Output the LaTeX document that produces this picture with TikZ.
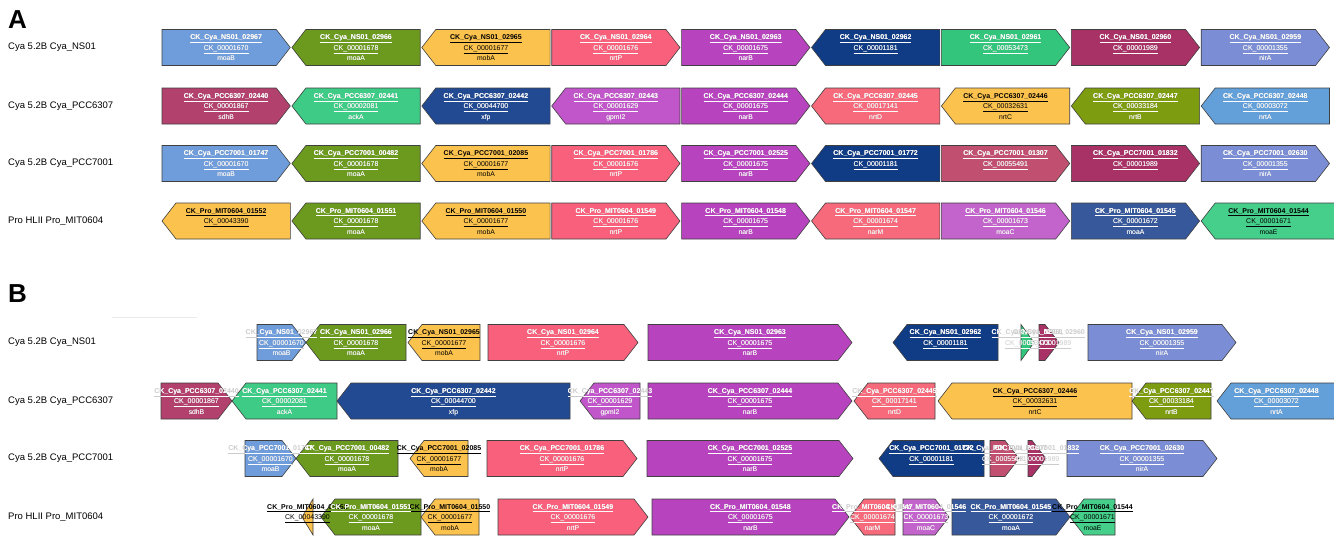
\documentclass[tikz,border=0pt]{standalone}
\usepackage{fontspec}
\setmainfont{Liberation Sans}
\definecolor{cMoaB}{HTML}{6F9CDA}
\definecolor{cMoaA}{HTML}{6B9A1E}
\definecolor{cMobA}{HTML}{FBC24E}
\definecolor{cNrtP}{HTML}{F8607B}
\definecolor{cNarB}{HTML}{B843BF}
\definecolor{cDkBlue}{HTML}{103B85}
\definecolor{cGrn}{HTML}{33C57B}
\definecolor{cCrim}{HTML}{A83266}
\definecolor{cNirA}{HTML}{7B8ED5}
\definecolor{cSdhB}{HTML}{B3416D}
\definecolor{cAckA}{HTML}{3DCB86}
\definecolor{cXfp}{HTML}{224A92}
\definecolor{cGpm}{HTML}{C056C9}
\definecolor{cNrtD}{HTML}{F66A7B}
\definecolor{cNrtB}{HTML}{7E9C10}
\definecolor{cNrtA}{HTML}{63A0DA}
\definecolor{cRose}{HTML}{C14F70}
\definecolor{cMoaC}{HTML}{C264CB}
\definecolor{cMoaAb}{HTML}{37599B}
\definecolor{cMoaE}{HTML}{45CF8A}
% colours whose labels are printed in black
\def\txtcMobA{black}
\def\txtcMoaE{black}
\def\gnWhite{white}
\tikzset{
  genebox/.style={draw=black!75, line width=0.6pt, line join=miter},
  gl1/.style={font=\fontsize{7}{8}\selectfont\bfseries, inner sep=0pt, anchor=base},
  gl2/.style={font=\fontsize{7}{8}\selectfont, inner sep=0pt, anchor=base},
  gl3/.style={font=\fontsize{6.8}{8}\selectfont, inner sep=0pt, anchor=base},
  rowlab/.style={font=\fontsize{9.5}{11}\selectfont, anchor=west, inner sep=0pt},
  panellab/.style={font=\fontsize{26}{30}\selectfont\bfseries, anchor=base west, inner sep=0pt},
  ghosttxt/.style={text=black!20},
}
\newcommand\gnCalc[5]{%
  \pgfmathsetmacro\gnH{min(14,(#2)-(#1))}%
  \pgfmathsetmacro\gnM{(#3)+18}%
  \pgfmathsetmacro\gnBot{(#3)+36}%
  \pgfmathsetmacro\gnX{((#1)+(#2))/2}%
  \if#4R%
    \pgfmathsetmacro\gnA{#1}\pgfmathsetmacro\gnB{#2}\pgfmathsetmacro\gnC{(#2)-\gnH}%
  \else
    \pgfmathsetmacro\gnA{#2}\pgfmathsetmacro\gnB{#1}\pgfmathsetmacro\gnC{(#1)+\gnH}%
  \fi
  \ifcsname txt#5\endcsname\def\gnT{black}\else\def\gnT{white}\fi
}
\newcommand\gnBox[9]{\gnCalc{#2}{#3}{#4}{#5}{#6}%
  \path[genebox,fill=#6] (\gnA,#4) -- (\gnC,#4) -- (\gnB,\gnM) -- (\gnC,\gnBot) -- (\gnA,\gnBot) -- cycle;
  \xdef\rowclip{\rowclip (\gnA,#4) -- (\gnC,#4) -- (\gnB,\gnM) -- (\gnC,\gnBot) -- (\gnA,\gnBot) -- cycle }%
}
\newcommand\gnTxtOut[9]{\gnCalc{#2}{#3}{#4}{#5}{#6}%
  \ifx\gnT\gnWhite
    \node[gl1,ghosttxt] (#1-g1) at (\gnX,#4+10) {\underline{#7}};
    \node[gl2,ghosttxt] (#1-g2) at (\gnX,#4+20.5) {\underline{#8}};
    \node[gl3,ghosttxt] (#1-g3) at (\gnX,#4+31) {#9};
  \else
    \node[gl1,text=black] (#1-1) at (\gnX,#4+10) {\underline{#7}};
    \node[gl2,text=black] (#1-2) at (\gnX,#4+20.5) {\underline{#8}};
    \node[gl3,text=black] (#1-3) at (\gnX,#4+31) {#9};
  \fi
}
\newcommand\gnTxtIn[9]{\gnCalc{#2}{#3}{#4}{#5}{#6}%
  \ifx\gnT\gnWhite
    \node[gl1,text=white] (#1-1) at (\gnX,#4+10) {\underline{#7}};
    \node[gl2,text=white] (#1-2) at (\gnX,#4+20.5) {\underline{#8}};
    \node[gl3,text=white] (#1-3) at (\gnX,#4+31) {#9};
  \fi
}
\newcommand\drawrow[1]{%
  \gdef\rowclip{}%
  \let\gn\gnBox #1%
  \let\gn\gnTxtOut #1%
  \begin{scope}\expandafter\clip\rowclip;\let\gn\gnTxtIn #1\end{scope}%
}
% ---------------- Panel A ----------------
\newcommand\rowAa{%
\gn{a1g1}{162}{290.3}{29.5}{R}{cMoaB}{CK\_Cya\_NS01\_02967}{CK\_00001670}{moaB}%
\gn{a1g2}{291.9}{420.2}{29.5}{L}{cMoaA}{CK\_Cya\_NS01\_02966}{CK\_00001678}{moaA}%
\gn{a1g3}{421.8}{550.1}{29.5}{L}{cMobA}{CK\_Cya\_NS01\_02965}{CK\_00001677}{mobA}%
\gn{a1g4}{551.7}{680}{29.5}{R}{cNrtP}{CK\_Cya\_NS01\_02964}{CK\_00001676}{nrtP}%
\gn{a1g5}{681.6}{809.9}{29.5}{R}{cNarB}{CK\_Cya\_NS01\_02963}{CK\_00001675}{narB}%
\gn{a1g6}{811.5}{939.8}{29.5}{L}{cDkBlue}{CK\_Cya\_NS01\_02962}{CK\_00001181}{}%
\gn{a1g7}{941.4}{1069.7}{29.5}{R}{cGrn}{CK\_Cya\_NS01\_02961}{CK\_00053473}{}%
\gn{a1g8}{1071.3}{1199.6}{29.5}{R}{cCrim}{CK\_Cya\_NS01\_02960}{CK\_00001989}{}%
\gn{a1g9}{1201.2}{1329.5}{29.5}{R}{cNirA}{CK\_Cya\_NS01\_02959}{CK\_00001355}{nirA}%
}
\newcommand\rowAb{%
\gn{a2g1}{162}{290.3}{88}{R}{cSdhB}{CK\_Cya\_PCC6307\_02440}{CK\_00001867}{sdhB}%
\gn{a2g2}{291.9}{420.2}{88}{L}{cAckA}{CK\_Cya\_PCC6307\_02441}{CK\_00002081}{ackA}%
\gn{a2g3}{421.8}{550.1}{88}{L}{cXfp}{CK\_Cya\_PCC6307\_02442}{CK\_00044700}{xfp}%
\gn{a2g4}{551.7}{680}{88}{L}{cGpm}{CK\_Cya\_PCC6307\_02443}{CK\_00001629}{gpmI2}%
\gn{a2g5}{681.6}{809.9}{88}{R}{cNarB}{CK\_Cya\_PCC6307\_02444}{CK\_00001675}{narB}%
\gn{a2g6}{811.5}{939.8}{88}{L}{cNrtD}{CK\_Cya\_PCC6307\_02445}{CK\_00017141}{nrtD}%
\gn{a2g7}{941.4}{1069.7}{88}{L}{cMobA}{CK\_Cya\_PCC6307\_02446}{CK\_00032631}{nrtC}%
\gn{a2g8}{1071.3}{1199.6}{88}{L}{cNrtB}{CK\_Cya\_PCC6307\_02447}{CK\_00033184}{nrtB}%
\gn{a2g9}{1201.2}{1329.5}{88}{L}{cNrtA}{CK\_Cya\_PCC6307\_02448}{CK\_00003072}{nrtA}%
}
\newcommand\rowAc{%
\gn{a3g1}{162}{290.3}{145.5}{R}{cMoaB}{CK\_Cya\_PCC7001\_01747}{CK\_00001670}{moaB}%
\gn{a3g2}{291.9}{420.2}{145.5}{L}{cMoaA}{CK\_Cya\_PCC7001\_00482}{CK\_00001678}{moaA}%
\gn{a3g3}{421.8}{550.1}{145.5}{L}{cMobA}{CK\_Cya\_PCC7001\_02085}{CK\_00001677}{mobA}%
\gn{a3g4}{551.7}{680}{145.5}{R}{cNrtP}{CK\_Cya\_PCC7001\_01786}{CK\_00001676}{nrtP}%
\gn{a3g5}{681.6}{809.9}{145.5}{R}{cNarB}{CK\_Cya\_PCC7001\_02525}{CK\_00001675}{narB}%
\gn{a3g6}{811.5}{939.8}{145.5}{L}{cDkBlue}{CK\_Cya\_PCC7001\_01772}{CK\_00001181}{}%
\gn{a3g7}{941.4}{1069.7}{145.5}{R}{cRose}{CK\_Cya\_PCC7001\_01307}{CK\_00055491}{}%
\gn{a3g8}{1071.3}{1199.6}{145.5}{R}{cCrim}{CK\_Cya\_PCC7001\_01832}{CK\_00001989}{}%
\gn{a3g9}{1201.2}{1329.5}{145.5}{R}{cNirA}{CK\_Cya\_PCC7001\_02630}{CK\_00001355}{nirA}%
}
\newcommand\rowAd{%
\gn{a4g1}{162}{290.3}{203}{L}{cMobA}{CK\_Pro\_MIT0604\_01552}{CK\_00043390}{}%
\gn{a4g2}{291.9}{420.2}{203}{L}{cMoaA}{CK\_Pro\_MIT0604\_01551}{CK\_00001678}{moaA}%
\gn{a4g3}{421.8}{550.1}{203}{L}{cMobA}{CK\_Pro\_MIT0604\_01550}{CK\_00001677}{mobA}%
\gn{a4g4}{551.7}{680}{203}{R}{cNrtP}{CK\_Pro\_MIT0604\_01549}{CK\_00001676}{nrtP}%
\gn{a4g5}{681.6}{809.9}{203}{R}{cNarB}{CK\_Pro\_MIT0604\_01548}{CK\_00001675}{narB}%
\gn{a4g6}{811.5}{939.8}{203}{L}{cNrtD}{CK\_Pro\_MIT0604\_01547}{CK\_00001674}{narM}%
\gn{a4g7}{941.4}{1069.7}{203}{R}{cMoaC}{CK\_Pro\_MIT0604\_01546}{CK\_00001673}{moaC}%
\gn{a4g8}{1071.3}{1199.6}{203}{R}{cMoaAb}{CK\_Pro\_MIT0604\_01545}{CK\_00001672}{moaA}%
\gn{a4g9}{1201.2}{1336}{203}{L}{cMoaE}{CK\_Pro\_MIT0604\_01544}{CK\_00001671}{moaE}%
}
% ---------------- Panel B ----------------
\newcommand\rowBa{%
\gn{b1g1}{257}{306}{324.5}{R}{cMoaB}{CK\_Cya\_NS01\_02967}{CK\_00001670}{moaB}%
\gn{b1g2}{306}{406}{324.5}{L}{cMoaA}{CK\_Cya\_NS01\_02966}{CK\_00001678}{moaA}%
\gn{b1g3}{408}{480}{324.5}{L}{cMobA}{CK\_Cya\_NS01\_02965}{CK\_00001677}{mobA}%
\gn{b1g4}{488}{638}{324.5}{R}{cNrtP}{CK\_Cya\_NS01\_02964}{CK\_00001676}{nrtP}%
\gn{b1g5}{648}{852}{324.5}{R}{cNarB}{CK\_Cya\_NS01\_02963}{CK\_00001675}{narB}%
\gn{b1g6}{893}{998}{324.5}{L}{cDkBlue}{CK\_Cya\_NS01\_02962}{CK\_00001181}{}%
\gn{b1g7}{1021}{1034}{324.5}{R}{cGrn}{CK\_Cya\_NS01\_02961}{CK\_00053473}{}%
\gn{b1g8}{1039}{1059}{324.5}{R}{cCrim}{CK\_Cya\_NS01\_02960}{CK\_00001989}{}%
\gn{b1g9}{1088}{1236}{324.5}{R}{cNirA}{CK\_Cya\_NS01\_02959}{CK\_00001355}{nirA}%
}
\newcommand\rowBb{%
\gn{b2g1}{161}{232}{383}{R}{cSdhB}{CK\_Cya\_PCC6307\_02440}{CK\_00001867}{sdhB}%
\gn{b2g2}{232}{337}{383}{L}{cAckA}{CK\_Cya\_PCC6307\_02441}{CK\_00002081}{ackA}%
\gn{b2g3}{337}{570}{383}{L}{cXfp}{CK\_Cya\_PCC6307\_02442}{CK\_00044700}{xfp}%
\gn{b2g4}{580}{640}{383}{L}{cGpm}{CK\_Cya\_PCC6307\_02443}{CK\_00001629}{gpmI2}%
\gn{b2g5}{648}{852}{383}{R}{cNarB}{CK\_Cya\_PCC6307\_02444}{CK\_00001675}{narB}%
\gn{b2g6}{854}{935}{383}{L}{cNrtD}{CK\_Cya\_PCC6307\_02445}{CK\_00017141}{nrtD}%
\gn{b2g7}{938}{1132}{383}{L}{cMobA}{CK\_Cya\_PCC6307\_02446}{CK\_00032631}{nrtC}%
\gn{b2g8}{1132}{1211}{383}{L}{cNrtB}{CK\_Cya\_PCC6307\_02447}{CK\_00033184}{nrtB}%
\gn{b2g9}{1217}{1336}{383}{L}{cNrtA}{CK\_Cya\_PCC6307\_02448}{CK\_00003072}{nrtA}%
}
\newcommand\rowBc{%
\gn{b3g1}{245}{296}{440.5}{R}{cMoaB}{CK\_Cya\_PCC7001\_01747}{CK\_00001670}{moaB}%
\gn{b3g2}{296}{398}{440.5}{L}{cMoaA}{CK\_Cya\_PCC7001\_00482}{CK\_00001678}{moaA}%
\gn{b3g3}{410}{468}{440.5}{L}{cMobA}{CK\_Cya\_PCC7001\_02085}{CK\_00001677}{mobA}%
\gn{b3g4}{487}{637}{440.5}{R}{cNrtP}{CK\_Cya\_PCC7001\_01786}{CK\_00001676}{nrtP}%
\gn{b3g5}{647}{853}{440.5}{R}{cNarB}{CK\_Cya\_PCC7001\_02525}{CK\_00001675}{narB}%
\gn{b3g6}{879}{984}{440.5}{L}{cDkBlue}{CK\_Cya\_PCC7001\_01772}{CK\_00001181}{}%
\gn{b3g7}{990}{1019}{440.5}{R}{cRose}{CK\_Cya\_PCC7001\_01307}{CK\_00055491}{}%
\gn{b3g8}{1028}{1046}{440.5}{R}{cCrim}{CK\_Cya\_PCC7001\_01832}{CK\_00001989}{}%
\gn{b3g9}{1067}{1217}{440.5}{R}{cNirA}{CK\_Cya\_PCC7001\_02630}{CK\_00001355}{nirA}%
}
\newcommand\rowBd{%
\gn{b4g1}{302}{313}{499}{L}{cMobA}{CK\_Pro\_MIT0604\_01552}{CK\_00043390}{}%
\gn{b4g2}{321}{421}{499}{L}{cMoaA}{CK\_Pro\_MIT0604\_01551}{CK\_00001678}{moaA}%
\gn{b4g3}{421}{479}{499}{L}{cMobA}{CK\_Pro\_MIT0604\_01550}{CK\_00001677}{mobA}%
\gn{b4g4}{498}{648}{499}{R}{cNrtP}{CK\_Pro\_MIT0604\_01549}{CK\_00001676}{nrtP}%
\gn{b4g5}{652}{849}{499}{R}{cNarB}{CK\_Pro\_MIT0604\_01548}{CK\_00001675}{narB}%
\gn{b4g6}{850}{895}{499}{L}{cNrtD}{CK\_Pro\_MIT0604\_01547}{CK\_00001674}{narM}%
\gn{b4g7}{903}{949}{499}{R}{cMoaC}{CK\_Pro\_MIT0604\_01546}{CK\_00001673}{moaC}%
\gn{b4g8}{952}{1070}{499}{R}{cMoaAb}{CK\_Pro\_MIT0604\_01545}{CK\_00001672}{moaA}%
\gn{b4g9}{1070}{1115}{499}{L}{cMoaE}{CK\_Pro\_MIT0604\_01544}{CK\_00001671}{moaE}%
}
\begin{document}
\begin{tikzpicture}[x=1pt,y=-1pt]
\useasboundingbox (0,0) rectangle (1334,536);
\fill[white] (0,0) rectangle (1334,536);
% panel letters
\node[panellab] (pA) at (8,28) {A};
\node[panellab] (pB) at (8,302) {B};
\draw[black!8, line width=0.8pt] (112,317) -- (197,317);
% row labels
\node[rowlab] (lA1) at (8,47.5) {Cya 5.2B Cya\_NS01};
\node[rowlab] (lA2) at (8,106) {Cya 5.2B Cya\_PCC6307};
\node[rowlab] (lA3) at (8,163.5) {Cya 5.2B Cya\_PCC7001};
\node[rowlab] (lA4) at (8,221) {Pro HLII Pro\_MIT0604};
\node[rowlab] (lB1) at (8,342.5) {Cya 5.2B Cya\_NS01};
\node[rowlab] (lB2) at (8,401) {Cya 5.2B Cya\_PCC6307};
\node[rowlab] (lB3) at (8,458.5) {Cya 5.2B Cya\_PCC7001};
\node[rowlab] (lB4) at (8,517) {Pro HLII Pro\_MIT0604};
\drawrow\rowAa
\drawrow\rowAb
\drawrow\rowAc
\drawrow\rowAd
\drawrow\rowBa
\drawrow\rowBb
\drawrow\rowBc
\drawrow\rowBd
\end{tikzpicture}
\end{document}
